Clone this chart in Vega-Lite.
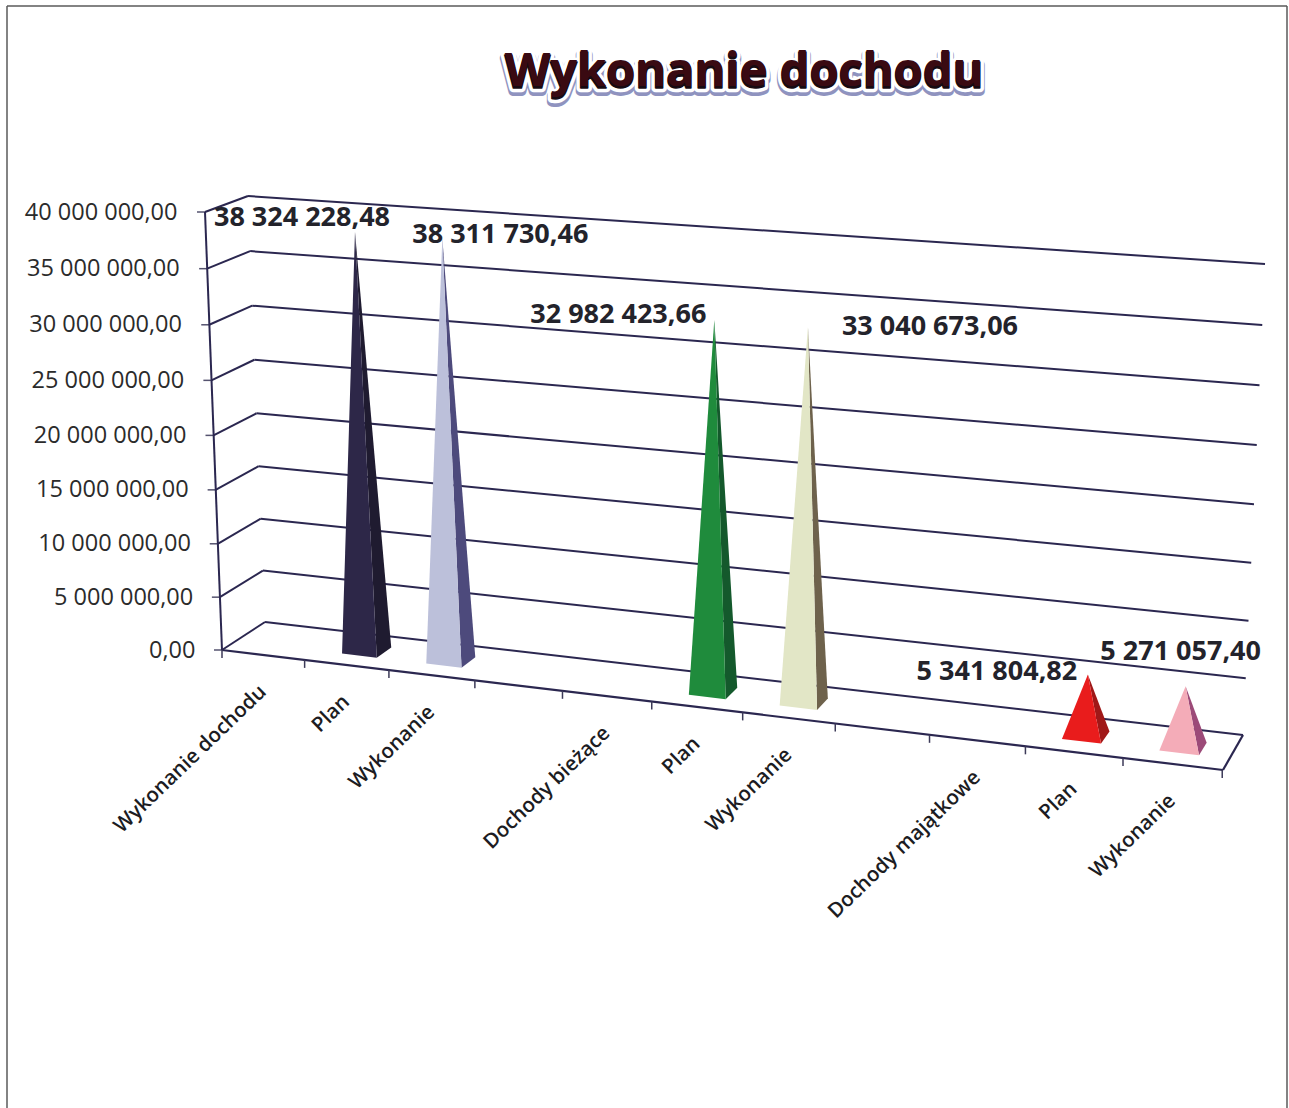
{
"$schema":"https://vega.github.io/schema/vega-lite/v6.json",
"width":1280,"height":1102,
"autosize":"none",
"padding":{"left":7,"top":6,"right":2,"bottom":0},
"background":"#ffffff",
"config":{"locale":{"number":{"decimal":",","thousands":" ","grouping":[3],"currency":["",""]}},"view":{"stroke":null}},
"title":{"text":"Wykonanie dochodu","anchor":"middle","frame":"group","align":"center","baseline":"alphabetic","offset":0,"dy":128,"dx":97,"font":"Open Sans","fontSize":47,"fontWeight":"bold","color":"#3a0a12"},
"datasets":{
"spikes":[
{"group":"Wykonanie dochodu","category":"Plan","pos":1.5,"value":38324228.48},
{"group":"Wykonanie dochodu","category":"Wykonanie","pos":2.5,"value":38311730.46},
{"group":"Dochody bieżące","category":"Plan","pos":5.5,"value":32982423.66},
{"group":"Dochody bieżące","category":"Wykonanie","pos":6.5,"value":33040673.06},
{"group":"Dochody majątkowe","category":"Plan","pos":9.5,"value":5341804.82},
{"group":"Dochody majątkowe","category":"Wykonanie","pos":10.5,"value":5271057.40}],
"levels":[{"level":0},{"level":5000000},{"level":10000000},{"level":15000000},{"level":20000000},{"level":25000000},{"level":30000000},{"level":35000000},{"level":40000000}],
"categories":[
{"category":"Wykonanie dochodu","pos":0.5},{"category":"Plan","pos":1.5},{"category":"Wykonanie","pos":2.5},
{"category":"Dochody bieżące","pos":4.5},{"category":"Plan","pos":5.5},{"category":"Wykonanie","pos":6.5},
{"category":"Dochody majątkowe","pos":8.5},{"category":"Plan","pos":9.5},{"category":"Wykonanie","pos":10.5}],
"boundaries":[{"pos":0},{"pos":1},{"pos":2},{"pos":3},{"pos":4},{"pos":5},{"pos":6},{"pos":7},{"pos":8},{"pos":9},{"pos":10},{"pos":11}],
"frame":[{"side":"left","ax":7,"ay":58812785,"bx":7,"by":-41826484},{"side":"top","ax":7,"ay":58812785,"bx":1287,"by":58812785},{"side":"right","ax":1287,"ay":58812785,"bx":1287,"by":-41826484}]
},
"encoding":{
"x":{"field":"sx","type":"quantitative","axis":null,"scale":{"domain":[7,1287],"nice":false,"zero":false}},
"y":{"field":"sy","type":"quantitative","scale":{"domain":[-41826484,58812785],"nice":false,"zero":false},
"axis":{"title":null,"grid":false,"domain":false,"ticks":false,"values":[0,5000000,10000000,15000000,20000000,25000000,30000000,35000000,40000000],"format":",.2f","labelFont":"Open Sans","labelFontSize":23.5,"labelColor":"#2b2b2b","offset":-198,"labelPadding":{"expr":"10+18*datum.value/40000000"},"labelOffset":{"expr":"0.5+14*(datum.value/40000000)*(1-datum.value/40000000)"},"labelOverlap":false,"labelBound":false,"labelFlush":false}}
},
"layer":[
{"data":{"name":"frame"},"transform":[{"calculate":"datum.ax","as":"sx"},{"calculate":"datum.ay","as":"sy"}],
 "mark":{"type":"rule","color":"#5a5a5a","strokeWidth":1.5},
 "encoding":{"x2":{"field":"bx"},"y2":{"field":"by"}}},
{"data":{"values":[{"t":"Wykonanie dochodu"}]},"mark":{"type":"text","font":"Open Sans","fontSize":47,"fontWeight":"bold","align":"center","baseline":"alphabetic","stroke":"#8f93bf","strokeWidth":10,"fill":"#8f93bf","dy":3,"strokeJoin":"round"},
 "encoding":{"x":{"value":{"expr":"width*0.5758"}},"y":{"value":{"expr":"height*0.0744"}},"text":{"field":"t"}}},
{"data":{"values":[{"t":"Wykonanie dochodu"}]},"mark":{"type":"text","font":"Open Sans","fontSize":47,"fontWeight":"bold","align":"center","baseline":"alphabetic","stroke":"#ffffff","strokeWidth":8.5,"fill":"#ffffff","strokeJoin":"round"},
 "encoding":{"x":{"value":{"expr":"width*0.5758"}},"y":{"value":{"expr":"height*0.0744"}},"text":{"field":"t"}}},
{"data":{"values":[{"t":"Wykonanie dochodu"}]},"mark":{"type":"text","font":"Open Sans","fontSize":47,"fontWeight":"bold","align":"center","baseline":"alphabetic","stroke":"#170a12","strokeWidth":1.5,"fill":"#170a12","strokeJoin":"round"},
 "encoding":{"x":{"value":{"expr":"width*0.5758"}},"y":{"value":{"expr":"height*0.0744"}},"text":{"field":"t"}}},
{"data":{"name":"levels"},"transform":[
 {"calculate":"datum.level/40000000","as":"r"},
 {"calculate":"datum.r*(1+0.04*(datum.r-1))","as":"u"},
 {"calculate":"265-17*datum.r","as":"sx"},{"calculate":"(28+426*datum.u)*40000000/438","as":"sy"},
 {"calculate":"1243+22*datum.r","as":"sx2"},{"calculate":"(-85+471*datum.u)*40000000/438","as":"sy2"}],
 "mark":{"type":"rule","color":"#2b2750","strokeWidth":2},
 "encoding":{"x2":{"field":"sx2"},"y2":{"field":"sy2"}}},
{"data":{"name":"levels"},"transform":[
 {"calculate":"datum.level/40000000","as":"r"},
 {"calculate":"datum.r*(1+0.04*(datum.r-1))","as":"u"},
 {"calculate":"222-17*datum.r","as":"sx"},{"calculate":"datum.u*40000000","as":"sy"},
 {"calculate":"265-17*datum.r","as":"sx2"},{"calculate":"(28+426*datum.u)*40000000/438","as":"sy2"}],
 "mark":{"type":"rule","color":"#2b2750","strokeWidth":2},
 "encoding":{"x2":{"field":"sx2"},"y2":{"field":"sy2"}}},
{"data":{"name":"levels"},"transform":[
 {"calculate":"datum.level/40000000","as":"r"},
 {"calculate":"datum.r*(1+0.04*(datum.r-1))","as":"u"},
 {"calculate":"214-17*datum.r","as":"sx"},{"calculate":"datum.u*40000000","as":"sy"},
 {"calculate":"222-17*datum.r","as":"sx2"}],
 "mark":{"type":"rule","color":"#55536f","strokeWidth":1.5},
 "encoding":{"x2":{"field":"sx2"},"y2":{"field":"sy"}}},
{"data":{"name":"levels"},"transform":[{"filter":"datum.level==40000000"},
 {"calculate":"222","as":"sx"},{"calculate":"0","as":"sy"},{"calculate":"205","as":"sx2"},{"calculate":"datum.level","as":"sy2"}],
 "mark":{"type":"rule","color":"#2b2750","strokeWidth":2},
 "encoding":{"x2":{"field":"sx2"},"y2":{"field":"sy2"}}},
{"data":{"name":"levels"},"transform":[{"filter":"datum.level==0"},
 {"calculate":"222","as":"sx"},{"calculate":"0","as":"sy"},{"calculate":"1223","as":"sx2"},{"calculate":"-120*40000000/438","as":"sy2"}],
 "mark":{"type":"rule","color":"#2b2750","strokeWidth":2.2},
 "encoding":{"x2":{"field":"sx2"},"y2":{"field":"sy2"}}},
{"data":{"name":"levels"},"transform":[{"filter":"datum.level==0"},
 {"calculate":"1223","as":"sx"},{"calculate":"-120*40000000/438","as":"sy"},{"calculate":"1243","as":"sx2"},{"calculate":"-85*40000000/438","as":"sy2"}],
 "mark":{"type":"rule","color":"#2b2750","strokeWidth":2.2},
 "encoding":{"x2":{"field":"sx2"},"y2":{"field":"sy2"}}},
{"data":{"name":"boundaries"},"transform":[
 {"calculate":"(81.8*datum.pos+0.83*datum.pos*datum.pos)/1001","as":"t"},
 {"calculate":"222+1001*datum.t","as":"sx"},
 {"calculate":"-120*datum.t*40000000/438","as":"sy"},
 {"calculate":"(-120*datum.t-8)*40000000/438","as":"sy2"}],
 "mark":{"type":"rule","color":"#3c3a58","strokeWidth":1.5},
 "encoding":{"y2":{"field":"sy2"}}},
{"data":{"name":"spikes"},"transform":[
 {"calculate":"(81.8*datum.pos+0.83*datum.pos*datum.pos)/1001","as":"t"},
 {"calculate":"datum.value/40000000","as":"r"},
 {"calculate":"datum.r*(1+0.04*(datum.r-1))","as":"u"},
 {"calculate":"[{a:1,d:0.32,h:0,o:0},{a:1,d:0.68,h:0,o:1},{a:0,d:0.5,h:1,o:2}]","as":"v"},
 {"flatten":["v"]},
 {"calculate":"222+1001*datum.t+datum.v.d*(43-23*datum.t)+datum.v.a*(17+3*datum.t)+datum.v.h*datum.r*(-17+39*datum.t)","as":"sx"},
 {"calculate":"(-120*datum.t+datum.v.d*(28+7*datum.t)-datum.v.a*(17+3*datum.t)*0.12+datum.v.h*datum.u*(438-12*datum.v.d+45*datum.t))*40000000/438","as":"sy"},
 {"calculate":"datum.v.o","as":"ord"}],
 "mark":{"type":"line","strokeWidth":0,"interpolate":"linear"},
 "encoding":{"order":{"field":"ord","type":"quantitative"},"fill":{"field":"pos","type":"nominal","legend":null,"scale":{"domain":[1.5,2.5,5.5,6.5,9.5,10.5],"range":["#1f1b30","#4d4a7c","#14592c","#6e624c","#a01818","#9c4a78"]}}}},
{"data":{"name":"spikes"},"transform":[
 {"calculate":"(81.8*datum.pos+0.83*datum.pos*datum.pos)/1001","as":"t"},
 {"calculate":"datum.value/40000000","as":"r"},
 {"calculate":"datum.r*(1+0.04*(datum.r-1))","as":"u"},
 {"calculate":"[{a:-1,d:0.32,h:0,o:0},{a:1,d:0.32,h:0,o:1},{a:0,d:0.5,h:1,o:2}]","as":"v"},
 {"flatten":["v"]},
 {"calculate":"222+1001*datum.t+datum.v.d*(43-23*datum.t)+datum.v.a*(17+3*datum.t)+datum.v.h*datum.r*(-17+39*datum.t)","as":"sx"},
 {"calculate":"(-120*datum.t+datum.v.d*(28+7*datum.t)-datum.v.a*(17+3*datum.t)*0.12+datum.v.h*datum.u*(438-12*datum.v.d+45*datum.t))*40000000/438","as":"sy"},
 {"calculate":"datum.v.o","as":"ord"}],
 "mark":{"type":"line","strokeWidth":0,"interpolate":"linear"},
 "encoding":{"order":{"field":"ord","type":"quantitative"},"fill":{"field":"pos","type":"nominal","legend":null,"scale":{"domain":[1.5,2.5,5.5,6.5,9.5,10.5],"range":["#2d2748","#bcc0da","#1f8b3c","#e2e6c6","#e91c1c","#f4acb8"]}}}},
{"data":{"name":"spikes"},"transform":[
 {"calculate":"(81.8*datum.pos+0.83*datum.pos*datum.pos)/1001","as":"t"},
 {"calculate":"datum.value/40000000","as":"u"},
 {"calculate":"({'1.5':[-53,-13],'2.5':[58,-3],'5.5':[-96,-2],'6.5':[122,3],'9.5':[-91,0],'10.5':[-5,-32]})[''+datum.pos]","as":"off"},
 {"calculate":"222+1001*datum.t+0.5*(43-23*datum.t)+datum.u*(-17+39*datum.t)+datum.off[0]","as":"sx"},
 {"calculate":"(-120*datum.t+0.5*(28+7*datum.t)+datum.u*(432+45*datum.t)-datum.off[1])*40000000/438","as":"sy"}],
 "mark":{"type":"text","font":"Open Sans","fontSize":27,"fontWeight":"bold","align":"center","baseline":"middle","color":"#23232b"},
 "encoding":{"text":{"field":"value","type":"quantitative","format":",.2f"}}},
{"data":{"name":"categories"},"transform":[
 {"calculate":"(81.8*datum.pos+0.83*datum.pos*datum.pos)/1001","as":"t"},
 {"calculate":"222+1001*datum.t","as":"sx"},
 {"calculate":"(-120*datum.t-34)*40000000/438","as":"sy"}],
 "mark":{"type":"text","font":"Open Sans","fontSize":20.5,"fontWeight":600,"angle":316,"align":"right","baseline":"middle","color":"#1c1c22"},
 "encoding":{"text":{"field":"category"}}}
],
"resolve":{"scale":{"fill":"independent"}}
}
